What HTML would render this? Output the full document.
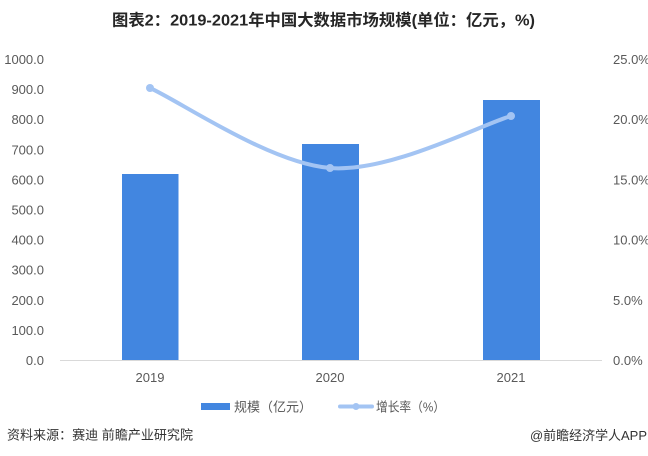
<!DOCTYPE html>
<html><head><meta charset="utf-8"><style>
html,body{margin:0;padding:0;background:#fff;}
svg{display:block;}
</style></head><body>
<svg width="648" height="456" viewBox="0 0 648 456" xmlns="http://www.w3.org/2000/svg">
<rect width="648" height="456" fill="#fff"/>
<text x="112" y="25.5" font-family="'Liberation Sans','Noto Sans CJK SC',sans-serif" font-size="16" font-weight="bold" fill="#262626" textLength="423" lengthAdjust="spacingAndGlyphs">图表2：2019-2021年中国大数据市场规模(单位：亿元，%)</text>

<g font-family="'Liberation Sans',sans-serif" font-size="13" fill="#595959">
<g text-anchor="end">
<text x="44" y="64">1000.0</text>
<text x="44" y="94.1">900.0</text>
<text x="44" y="124.2">800.0</text>
<text x="44" y="154.3">700.0</text>
<text x="44" y="184.4">600.0</text>
<text x="44" y="214.5">500.0</text>
<text x="44" y="244.6">400.0</text>
<text x="44" y="274.7">300.0</text>
<text x="44" y="304.8">200.0</text>
<text x="44" y="334.9">100.0</text>
<text x="44" y="365">0.0</text>
</g>
<text x="613" y="64">25.0%</text>
<text x="613" y="124.2">20.0%</text>
<text x="613" y="184.4">15.0%</text>
<text x="613" y="244.6">10.0%</text>
<text x="613" y="304.8">5.0%</text>
<text x="613" y="365">0.0%</text>
<g text-anchor="middle">
<text x="150" y="382">2019</text>
<text x="330" y="382">2020</text>
<text x="511" y="382">2021</text>
</g>
</g>

<line x1="60" y1="360.5" x2="602" y2="360.5" stroke="#d9d9d9" stroke-width="1"/>

<rect x="122" y="174" width="56.5" height="186" fill="#4286E0"/>
<rect x="302" y="144" width="57" height="216" fill="#4286E0"/>
<rect x="483" y="100" width="57" height="260" fill="#4286E0"/>

<path d="M150,88 C180,101.3 269.8,163.3 330,168 C390.2,172.7 480.8,124.7 511,116" fill="none" stroke="#A3C4F3" stroke-width="4" stroke-linecap="round"/>
<circle cx="150" cy="88" r="4" fill="#A3C4F3"/>
<circle cx="330" cy="168" r="4" fill="#A3C4F3"/>
<circle cx="511" cy="116" r="4" fill="#A3C4F3"/>

<rect x="201" y="403" width="29" height="7" fill="#4286E0"/>
<text x="234" y="411.5" font-family="'Liberation Sans','Noto Sans CJK SC',sans-serif" font-size="13" fill="#595959" textLength="78" lengthAdjust="spacingAndGlyphs">规模（亿元）</text>
<line x1="340" y1="406.5" x2="372" y2="406.5" stroke="#A3C4F3" stroke-width="4" stroke-linecap="round"/>
<circle cx="356" cy="406.5" r="3.5" fill="#A3C4F3"/>
<text x="376" y="411.5" font-family="'Liberation Sans','Noto Sans CJK SC',sans-serif" font-size="13" fill="#595959" textLength="69" lengthAdjust="spacingAndGlyphs">增长率（%）</text>

<text x="7" y="439.5" font-family="'Liberation Sans','Noto Sans CJK SC',sans-serif" font-size="13" fill="#333" textLength="186" lengthAdjust="spacingAndGlyphs">资料来源：赛迪 前瞻产业研究院</text>
<text x="530" y="440" font-family="'Liberation Sans','Noto Sans CJK SC',sans-serif" font-size="13" fill="#333" textLength="117" lengthAdjust="spacingAndGlyphs">@前瞻经济学人APP</text>
</svg>
</body></html>
